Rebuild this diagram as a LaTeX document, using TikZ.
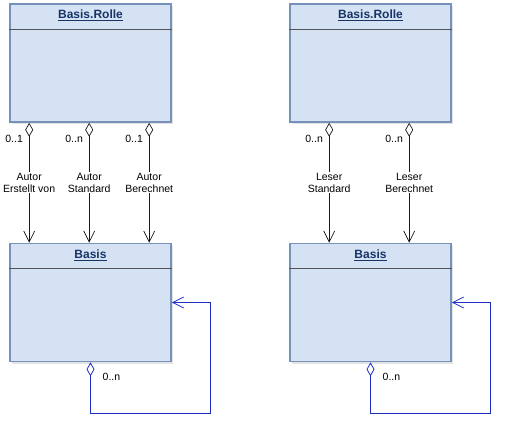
\documentclass[tikz,border=0pt]{standalone}
\usepackage{fontspec}
\setmainfont{Liberation Sans}
\usepackage{tikz}
\usetikzlibrary{arrows.meta,positioning,calc,shadows}
\definecolor{boxfill}{RGB}{213,226,244}
\definecolor{boxrand}{RGB}{118,146,186}
\definecolor{titelblau}{RGB}{22,52,102}
\definecolor{trenngrau}{RGB}{84,84,90}
\definecolor{loopblau}{RGB}{30,48,192}
\colorlet{figink}{black!90}

\begin{document}
\begin{tikzpicture}[
  x=1pt, y=-1pt,
  font=\fontsize{10.5}{12}\selectfont,
  klasse/.style={draw=boxrand, line width=1.6pt, fill=boxfill,
    minimum width=161pt, minimum height=118pt, inner sep=0pt,
    drop shadow={opacity=0.22, shadow xshift=2pt, shadow yshift=-2pt}},
  titel/.style={text=titelblau, font=\fontsize{12}{14}\selectfont\bfseries},
  trenn/.style={draw=trenngrau, line width=1.3pt},
  aggr/.style={draw=figink, line width=0.7pt,
    {Diamond[open, length=14pt, width=8pt]}-{Straight Barb[length=11pt, width=11pt]}},
  selbst/.style={draw=loopblau, line width=0.8pt,
    {Diamond[open, length=14pt, width=8pt]}-{Straight Barb[length=11pt, width=11pt]}},
  rolle/.style={fill=white, align=center, inner sep=1pt},
  mult/.style={inner sep=1pt},
]
  \useasboundingbox (0,0) rectangle (509,432);

  % Klassen, links und rechts
  \foreach \n/\x in {L/90.5, R/370.5} {
    \node[klasse] (rolle\n) at (\x,63) {};
    \node[klasse] (basis\n) at (\x,302.5) {};
    \node[titel] (trolle\n) at ([yshift=-12.5pt]rolle\n.north) {\underline{Basis.Rolle}};
    \node[titel] (tbasis\n) at ([yshift=-12.5pt]basis\n.north) {\underline{Basis}};
    \draw[trenn] ([yshift=-26pt]rolle\n.north west) -- ([yshift=-26pt]rolle\n.north east);
    \draw[trenn] ([yshift=-26pt]basis\n.north west) -- ([yshift=-26pt]basis\n.north east);
  }

  % Rollen links
  \foreach \dx/\m/\txt in {
    20/0..1/Autor\\Erstellt von,
    80/0..n/Autor\\Standard,
    140/0..1/Autor\\Berechnet%
  } {
    \draw[aggr] ([xshift=\dx pt]rolleL.south west) -- ([xshift=\dx pt]basisL.north west)
      node[rolle, pos=0.5] {\txt}
      node[mult, pos=0.13, left=5pt] {\m};
  }

  % Rollen rechts
  \foreach \dx/\m/\txt in {
    40/0..n/Leser\\Standard,
    120/0..n/Leser\\Berechnet%
  } {
    \draw[aggr] ([xshift=\dx pt]rolleR.south west) -- ([xshift=\dx pt]basisR.north west)
      node[rolle, pos=0.5] {\txt}
      node[mult, pos=0.13, left=5pt] {\m};
  }

  % Selbstbezug
  \foreach \n in {L, R} {
    \draw[selbst] (basis\n.south) -- ++(0,51) -| ([xshift=39pt]basis\n.east) -- (basis\n.east);
    \node[mult, right=11pt] (m\n) at ([yshift=-15pt]basis\n.south) {0..n};
  }
\end{tikzpicture}
\end{document}
